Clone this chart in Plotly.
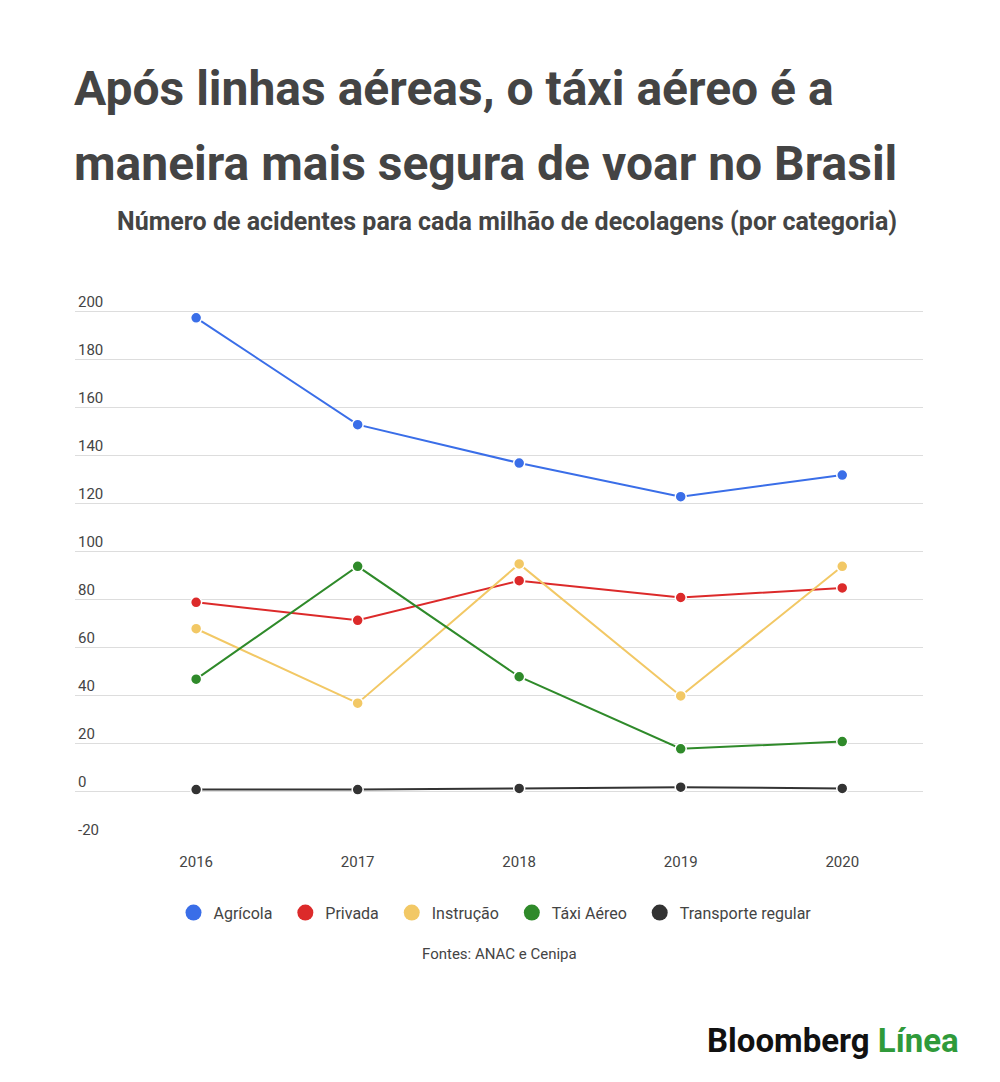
#Line chart: acidentes por milhão de decolagens
import plotly.graph_objects as go

years = [2016, 2017, 2018, 2019, 2020]

#values read per category
series = {
  "Agrícola":           ([197.5, 153, 137, 123, 132], "#3a6ee8"),
  "Privada":            ([79, 71.5, 88, 81, 85],      "#dc2a2a"),
  "Instrução":          ([68, 37, 95, 40, 94],        "#f2c865"),
  "Táxi Aéreo":         ([47, 94, 48, 18, 21],        "#2f8a2a"),
  "Transporte regular": ([1, 1, 1.5, 2, 1.5],         "#333333"),
}

fig = go.Figure()
for name, (vals, col) in series.items():
  fig.add_trace(go.Scatter(
      x=years, y=vals, name=name, mode="lines+markers", showlegend=False,
      line=dict(color=col, width=2),
      marker=dict(size=11, color=col, line=dict(color="white", width=1.5))))
  #legend entry: marker only
  fig.add_trace(go.Scatter(
      x=[None], y=[None], name=name + "  ", mode="markers",
      marker=dict(size=18, color=col)))

fig.update_layout(
    width=1000, height=1082,
    paper_bgcolor="white", plot_bgcolor="white",
    margin=dict(l=67, r=85, t=275, b=250),
    font=dict(family="Roboto", color="#444", size=15),
    legend=dict(orientation="h", x=0.5, xanchor="center", y=-0.1, yanchor="top",
                font=dict(size=16, color="#444")),
)

fig.update_xaxes(range=[2015.25, 2020.5], tickvals=years, showgrid=False,
                 zeroline=False, showline=False, ticks="outside", ticklen=8, tickcolor="white",
                 tickfont=dict(size=15, color="#444"))
fig.update_yaxes(range=[-20, 212], tickvals=list(range(-20, 201, 20)),
                 ticktext=[str(v) for v in range(-20, 201, 20)],
                 ticklabelposition="inside top", gridcolor="#dddddd", zeroline=False,
                 tickfont=dict(size=15, color="#444"))

#titles (one annotation per line to control spacing)
for txt, ypos in [("Após linhas aéreas, o táxi aéreo é a", 1.350),
                  ("maneira mais segura de voar no Brasil", 1.215)]:
  fig.add_annotation(text=f"<b>{txt}</b>", xref="paper", yref="paper", x=-0.004, y=ypos,
                     xanchor="left", yanchor="middle", align="left", showarrow=False,
                     font=dict(size=48, color="#444"))
fig.add_annotation(text="<b>Número de acidentes para cada milhão de decolagens (por categoria)</b>",
                   xref="paper", yref="paper", x=0.51, y=1.110, xanchor="center", yanchor="middle",
                   showarrow=False, font=dict(size=25, color="#444"))
fig.add_annotation(text="Fontes: ANAC e Cenipa", xref="paper", yref="paper", x=0.5, y=-0.205,
                   xanchor="center", yanchor="middle", showarrow=False, font=dict(size=15, color="#444"))
fig.add_annotation(text="<b>Bloomberg</b> <span style='color:#2f9a3a'><b>Línea</b></span>",
                   xref="paper", yref="paper", x=1.045, y=-0.36, xanchor="right", yanchor="middle",
                   showarrow=False, font=dict(size=33, color="#111", family="Roboto"))

fig.write_html("out.html")
